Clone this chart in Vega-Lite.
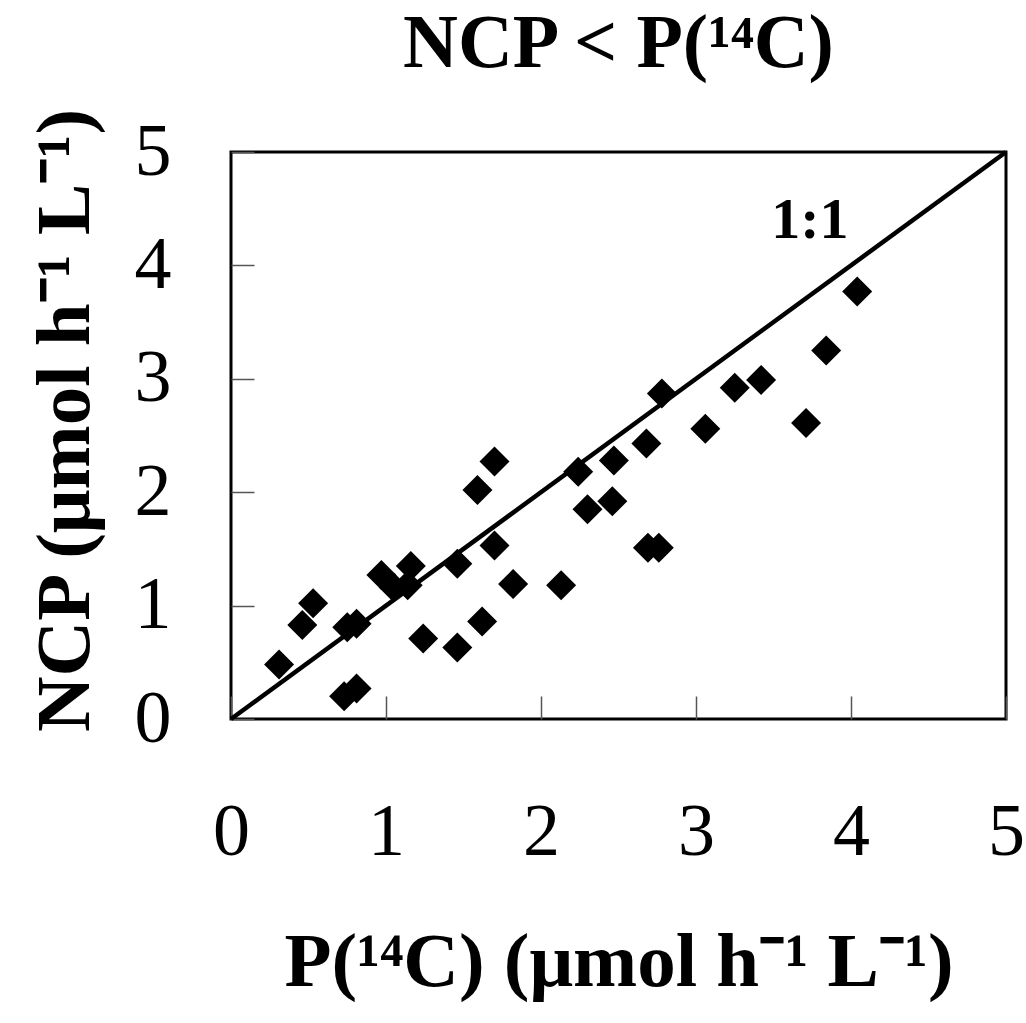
{
  "$schema": "https://vega.github.io/schema/vega-lite/v6.json",
  "width": 775,
  "height": 567,
  "autosize": {"type": "none"},
  "padding": {"left": 231, "top": 152, "right": 20, "bottom": 304},
  "background": "white",
  "title": {
    "text": "NCP < P(¹⁴C)",
    "font": "Liberation Serif",
    "fontSize": 76,
    "fontWeight": "bold",
    "color": "black",
    "anchor": "middle",
    "baseline": "alphabetic",
    "offset": 23,
    "dy": 60
  },
  "config": {
    "view": {"stroke": "black", "strokeWidth": 3},
    "axis": {
      "grid": false,
      "domain": false,
      "tickColor": "#555555",
      "tickWidth": 1.5,
      "tickSize": -23,
      "labelFont": "Liberation Serif",
      "labelFontSize": 74,
      "labelColor": "black",
      "titleFont": "Liberation Serif",
      "titleFontSize": 77,
      "titleFontWeight": "bold",
      "titleColor": "black"
    }
  },
  "layer": [
    {
      "data": {"values": [{"px": 0, "ncp": 0}, {"px": 5, "ncp": 5}]},
      "mark": {"type": "line", "color": "black", "strokeWidth": 4.5},
      "encoding": {
        "x": {"field": "px", "type": "quantitative", "scale": {"domain": [0, 5]},
          "axis": {"values": [0, 1, 2, 3, 4, 5], "format": "d", "labelPadding": 100, "labelFlush": false,
            "title": "P(¹⁴C) (μmol h⁻¹ L⁻¹)", "titleY": 266, "titleBaseline": "alphabetic"}},
        "y": {"field": "ncp", "type": "quantitative", "scale": {"domain": [0, 5]},
          "axis": {"values": [0, 1, 2, 3, 4, 5], "format": "d", "labelPadding": 83, "labelFlush": false,
            "title": "NCP (μmol h⁻¹ L⁻¹)", "titleX": -143, "titleY": 268, "titleAngle": -90,
            "titleAlign": "center", "titleBaseline": "alphabetic"}}
      }
    },
    {
      "data": {"values": [
        {"px": 0.31, "ncp": 0.48}, {"px": 0.46, "ncp": 0.83}, {"px": 0.53, "ncp": 1.02},
        {"px": 0.73, "ncp": 0.2}, {"px": 0.81, "ncp": 0.27}, {"px": 0.75, "ncp": 0.81},
        {"px": 0.81, "ncp": 0.84}, {"px": 0.97, "ncp": 1.27}, {"px": 1.05, "ncp": 1.16},
        {"px": 1.16, "ncp": 1.35}, {"px": 1.14, "ncp": 1.18}, {"px": 1.24, "ncp": 0.71},
        {"px": 1.46, "ncp": 1.37}, {"px": 1.46, "ncp": 0.63}, {"px": 1.59, "ncp": 2.02},
        {"px": 1.7, "ncp": 2.27}, {"px": 1.7, "ncp": 1.53}, {"px": 1.62, "ncp": 0.86},
        {"px": 1.82, "ncp": 1.19}, {"px": 2.13, "ncp": 1.18}, {"px": 2.24, "ncp": 2.18},
        {"px": 2.3, "ncp": 1.85}, {"px": 2.47, "ncp": 2.28}, {"px": 2.46, "ncp": 1.92},
        {"px": 2.68, "ncp": 2.43}, {"px": 2.78, "ncp": 2.87}, {"px": 2.69, "ncp": 1.51},
        {"px": 2.76, "ncp": 1.51}, {"px": 3.06, "ncp": 2.56}, {"px": 3.25, "ncp": 2.92},
        {"px": 3.42, "ncp": 2.99}, {"px": 3.71, "ncp": 2.61}, {"px": 3.84, "ncp": 3.25},
        {"px": 4.04, "ncp": 3.77}
      ]},
      "mark": {"type": "point", "shape": "diamond", "filled": true, "color": "black", "size": 900, "opacity": 1},
      "encoding": {
        "x": {"field": "px", "type": "quantitative"},
        "y": {"field": "ncp", "type": "quantitative"}
      }
    },
    {
      "data": {"values": [{"px": 3.735, "ncp": 4.39, "label": "1:1"}]},
      "mark": {"type": "text", "font": "Liberation Serif", "fontSize": 58, "fontWeight": "bold", "color": "black", "align": "center", "baseline": "middle"},
      "encoding": {
        "x": {"field": "px", "type": "quantitative"},
        "y": {"field": "ncp", "type": "quantitative"},
        "text": {"field": "label"}
      }
    }
  ]
}
